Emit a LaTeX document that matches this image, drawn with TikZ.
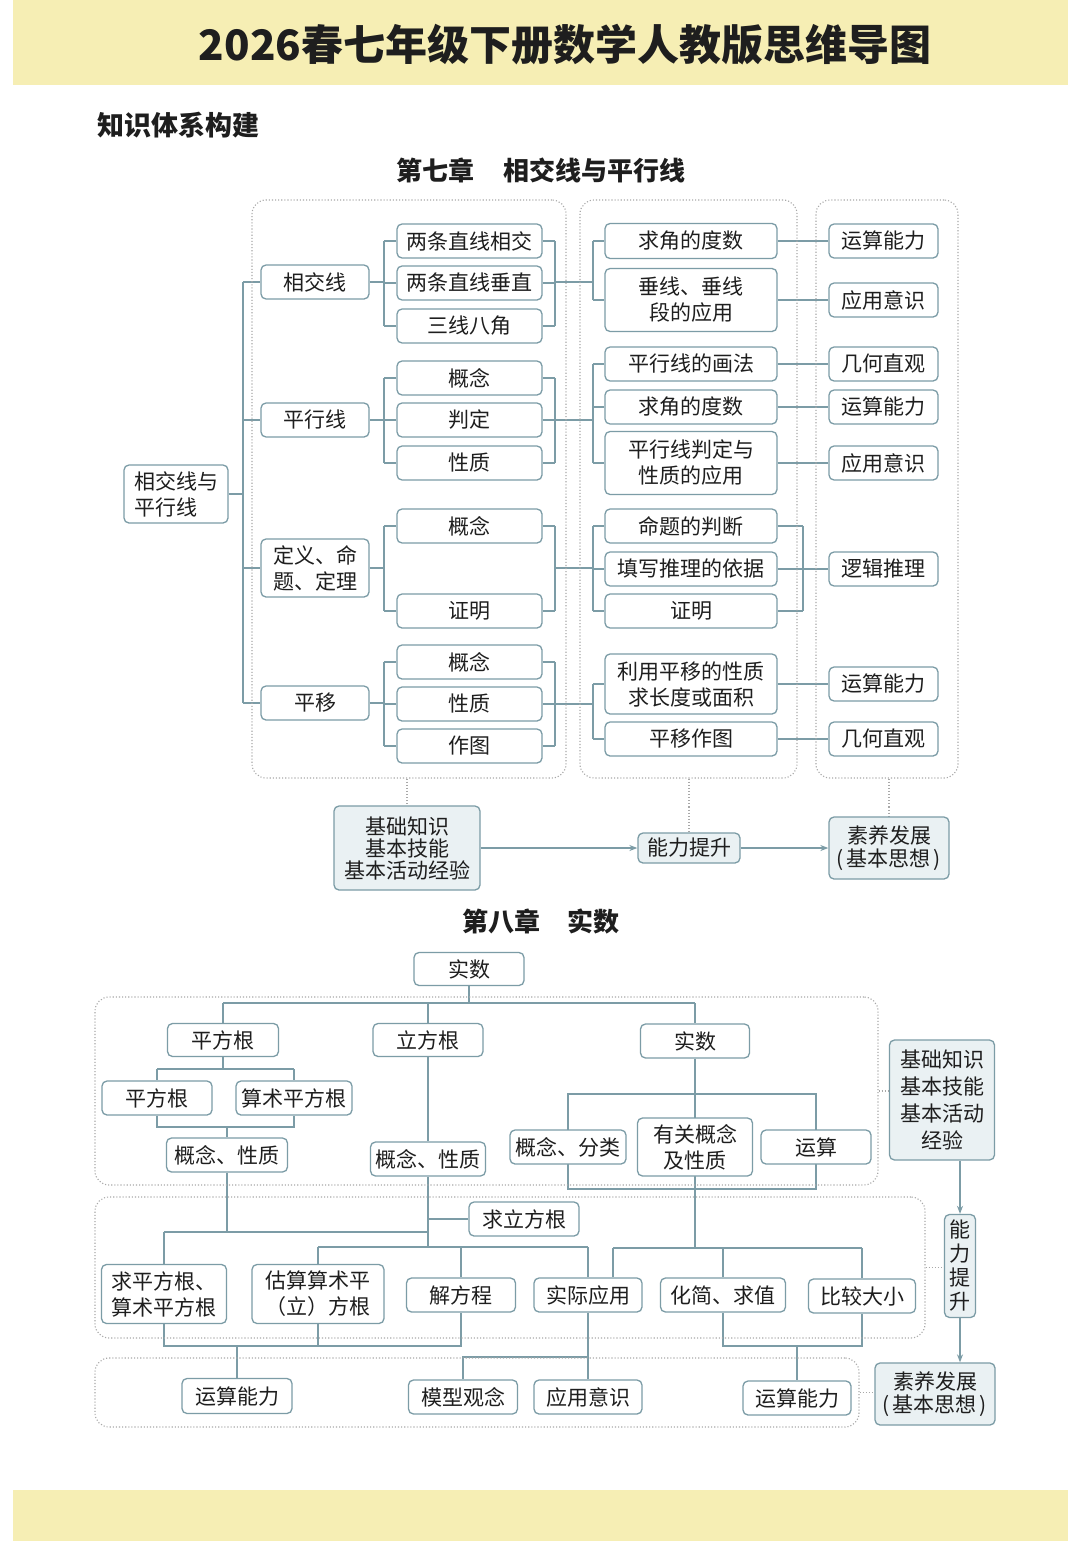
\documentclass[tikz,border=0pt]{standalone}
\usepackage{fontspec}
\setmainfont{Noto Sans CJK SC}
\usetikzlibrary{arrows.meta,backgrounds}
\definecolor{ln}{HTML}{7C9CA6}
\definecolor{dotc}{HTML}{A8A8A8}
\definecolor{band}{HTML}{F6EEB4}
\definecolor{lfill}{HTML}{EAF1F3}
\definecolor{txt}{HTML}{1E1E1E}
\begin{document}
\begin{tikzpicture}[x=1pt,y=-1pt,
  nb/.style={draw=ln,line width=1.3pt,rounded corners=5pt,fill=white,inner sep=0pt,text=txt,font=\fontsize{21}{26}\selectfont,align=center},
  nbl/.style={nb,fill=lfill},
  ctr/.style={draw=dotc,line width=1.1pt,dotted,rounded corners=14pt,inner sep=0pt},
  cn/.style={draw=ln,line width=1.3pt},
  dcn/.style={draw=dotc,line width=1.1pt,dotted},
  arr/.style={draw=ln,line width=1.3pt,-{Stealth[length=8pt,width=6pt]}},
  ttl/.style={inner sep=0pt,text=txt}
]
\useasboundingbox (0,0) rectangle (1080,1541);
\begin{scope}[on background layer]
  \fill[white] (0,0) rectangle (1080,1541);
  \fill[band] (13,0) rectangle (1068,85);
  \fill[band] (13,1490) rectangle (1068,1541);
\end{scope}

% ---------- titles ----------
\node[ttl] (title) at (565,45) {\fontsize{42}{42}\selectfont\bfseries 2026春七年级下册数学人教版思维导图};
\node[ttl,anchor=west] (kz) at (97,125) {\fontsize{27}{27}\selectfont\bfseries 知识体系构建};
\node[ttl] (ch7) at (541,170) {\fontsize{26}{26}\selectfont\bfseries 第七章\hspace{30pt}相交线与平行线};
\node[ttl] (ch8) at (541,921) {\fontsize{26}{26}\selectfont\bfseries 第八章\hspace{28pt}实数};

% ---------- chapter 7 containers ----------
\node[ctr,minimum width=314pt,minimum height=578pt] (boxA) at (409,489) {};
\node[ctr,minimum width=217pt,minimum height=578pt] (boxB) at (688.5,489) {};
\node[ctr,minimum width=142pt,minimum height=578pt] (boxC) at (887,489) {};

% root
\node[nb,align=left,minimum width=104pt,minimum height=58pt] (root) at (176,494) {相交线与\\平行线};
% level 1
\node[nb,minimum width=108pt,minimum height=34pt] (xjx) at (315,282) {相交线};
\node[nb,minimum width=108pt,minimum height=34pt] (pxx) at (315,420) {平行线};
\node[nb,minimum width=108pt,minimum height=58pt] (dy) at (315,568) {定义、命\\题、定理};
\node[nb,minimum width=108pt,minimum height=34pt] (py) at (315,703) {平移};
% level 2
\foreach \n/\y/\t in {a1/241/两条直线相交,a2/283/两条直线垂直,a3/326/三线八角,b1/378/概念,b2/420/判定,b3/463/性质,c1/526/概念,c2/611/证明,d1/662/概念,d2/704/性质,d3/746/作图}
  \node[nb,minimum width=145pt,minimum height=34pt] (\n) at (469.5,\y) {\t};
% level 3
\node[nb,minimum width=172pt,minimum height=35pt] (e1) at (691,241) {求角的度数};
\node[nb,minimum width=172pt,minimum height=63pt] (e2) at (691,300) {垂线、垂线\\段的应用};
\node[nb,minimum width=172pt,minimum height=34pt] (f1) at (691,364) {平行线的画法};
\node[nb,minimum width=172pt,minimum height=34pt] (f2) at (691,407) {求角的度数};
\node[nb,minimum width=172pt,minimum height=63pt] (f3) at (691,463) {平行线判定与\\性质的应用};
\node[nb,minimum width=172pt,minimum height=34pt] (g1) at (691,526) {命题的判断};
\node[nb,minimum width=172pt,minimum height=34pt] (g2) at (691,569) {填写推理的依据};
\node[nb,minimum width=172pt,minimum height=34pt] (g3) at (691,611) {证明};
\node[nb,minimum width=172pt,minimum height=60pt] (h1) at (691,684) {利用平移的性质\\求长度或面积};
\node[nb,minimum width=172pt,minimum height=34pt] (h2) at (691,739) {平移作图};
% level 4
\foreach \n/\y/\t in {k1/241/运算能力,k2/300/应用意识,k3/364/几何直观,k4/407/运算能力,k5/463/应用意识,k6/569/逻辑推理,k7/684/运算能力,k8/739/几何直观}
  \node[nb,minimum width=109pt,minimum height=34pt] (\n) at (883.5,\y) {\t};
% bottom row
\node[nbl,font=\fontsize{21}{22}\selectfont,minimum width=146pt,minimum height=84pt] (jc) at (407,848) {基础知识\\基本技能\\基本活动经验};
\node[nbl,minimum width=102pt,minimum height=30pt] (nl) at (689,848) {能力提升};
\node[nbl,font=\fontsize{21}{23}\selectfont,minimum width=120pt,minimum height=62pt] (sy) at (889,848) {素养发展\\(\hspace{3pt}基本思想\hspace{3pt})};

% ---------- chapter 8 ----------
\node[ctr,minimum width=783pt,minimum height=188pt] (boxD) at (486.5,1091) {};
\node[ctr,minimum width=830pt,minimum height=141pt] (boxE) at (510,1267.5) {};
\node[ctr,minimum width=764pt,minimum height=69pt] (boxF) at (477,1392.5) {};

\node[nb,minimum width=110pt,minimum height=33pt] (s0) at (469,969) {实数};
\node[nb,minimum width=111pt,minimum height=33pt] (s1) at (223,1040) {平方根};
\node[nb,minimum width=110pt,minimum height=33pt] (s2) at (428,1040) {立方根};
\node[nb,minimum width=109pt,minimum height=34pt] (s3) at (695,1041) {实数};
\node[nb,minimum width=110pt,minimum height=34pt] (s11) at (157,1098) {平方根};
\node[nb,minimum width=116pt,minimum height=34pt] (s12) at (294,1098) {算术平方根};
\node[nb,minimum width=121pt,minimum height=34pt] (s13) at (227,1155) {概念、性质};
\node[nb,minimum width=115pt,minimum height=34pt] (s21) at (428,1159) {概念、性质};
\node[nb,minimum width=116pt,minimum height=34pt] (s31) at (568,1147) {概念、分类};
\node[nb,minimum width=115pt,minimum height=58pt] (s32) at (695,1147) {有关概念\\及性质};
\node[nb,minimum width=110pt,minimum height=34pt] (s33) at (816,1147) {运算};
\node[nbl,font=\fontsize{21}{27}\selectfont,minimum width=105pt,minimum height=120pt] (jc8) at (942,1100) {基础知识\\基本技能\\基本活动\\经验};

\node[nb,minimum width=110pt,minimum height=34pt] (s4) at (524,1219) {求立方根};
\node[nb,align=left,minimum width=125pt,minimum height=59pt] (t1) at (164,1294) {求平方根、\\算术平方根};
\node[nb,align=left,minimum width=132pt,minimum height=59pt] (t2) at (318,1294) {估算算术平\\（立）方根};
\node[nb,minimum width=109pt,minimum height=34pt] (t3) at (461,1295) {解方程};
\node[nb,minimum width=108pt,minimum height=34pt] (t4) at (588,1295) {实际应用};
\node[nb,minimum width=125pt,minimum height=34pt] (t5) at (723,1295) {化简、求值};
\node[nb,minimum width=107pt,minimum height=34pt] (t6) at (862,1296) {比较大小};
\node[nbl,font=\fontsize{21}{24}\selectfont,minimum width=31pt,minimum height=103pt] (nl8) at (960,1266) {能\\力\\提\\升};
\node[nbl,font=\fontsize{21}{23}\selectfont,minimum width=120pt,minimum height=62pt] (sy8) at (935,1394) {素养发展\\(\hspace{3pt}基本思想\hspace{3pt})};

\node[nb,minimum width=110pt,minimum height=35pt] (u1) at (237,1396) {运算能力};
\node[nb,minimum width=109pt,minimum height=34pt] (u2) at (463,1397) {模型观念};
\node[nb,minimum width=108pt,minimum height=34pt] (u3) at (588,1397) {应用意识};
\node[nb,minimum width=108pt,minimum height=34pt] (u4) at (797,1398) {运算能力};

% ---------- helper coordinates ----------
\coordinate (T) at (243,0);
\coordinate (LB) at (384,0);
\coordinate (RB) at (555,0);
\coordinate (L3) at (593,0);
\coordinate (R3) at (803,0);
\coordinate (Y1) at (0,1003);
\coordinate (Y2) at (0,1069);
\coordinate (Y3) at (0,1127);
\coordinate (Y4) at (0,1094);
\coordinate (Y5) at (0,1189);
\coordinate (Y6) at (0,1232);
\coordinate (Y7) at (0,1248);
\coordinate (Y8) at (0,1247);
\coordinate (Y9) at (0,1346);
\coordinate (Y10) at (0,1357);
\coordinate (X9) at (613,0);

% ---------- connectors ----------
\begin{scope}[on background layer]
% chapter 7 trunk
\draw[cn] (root.east) -- (root.east -| T);
\draw[cn] (T |- xjx.west) -- (T |- py.west);
\foreach \n in {xjx,pxx,dy,py} \draw[cn] (T |- \n.west) -- (\n.west);
% group 1
\draw[cn] (xjx.east) -- (xjx.east -| LB);
\draw[cn] (LB |- a1.west) -- (LB |- a3.west);
\draw[cn] (RB |- a1.east) -- (RB |- a3.east);
\foreach \n in {a1,a2,a3} {\draw[cn] (LB |- \n.west) -- (\n.west); \draw[cn] (\n.east) -- (RB |- \n.east);}
\draw[cn] (RB |- xjx.east) -- (L3 |- xjx.east);
\draw[cn] (L3 |- e1.west) -- (L3 |- e2.west);
\foreach \n in {e1,e2} \draw[cn] (L3 |- \n.west) -- (\n.west);
% group 2
\draw[cn] (pxx.east) -- (pxx.east -| LB);
\draw[cn] (LB |- b1.west) -- (LB |- b3.west);
\draw[cn] (RB |- b1.east) -- (RB |- b3.east);
\foreach \n in {b1,b2,b3} {\draw[cn] (LB |- \n.west) -- (\n.west); \draw[cn] (\n.east) -- (RB |- \n.east);}
\draw[cn] (RB |- pxx.east) -- (L3 |- pxx.east);
\draw[cn] (L3 |- f1.west) -- (L3 |- f3.west);
\foreach \n in {f1,f2,f3} \draw[cn] (L3 |- \n.west) -- (\n.west);
% group 3
\draw[cn] (dy.east) -- (dy.east -| LB);
\draw[cn] (LB |- c1.west) -- (LB |- c2.west);
\draw[cn] (RB |- c1.east) -- (RB |- c2.east);
\foreach \n in {c1,c2} {\draw[cn] (LB |- \n.west) -- (\n.west); \draw[cn] (\n.east) -- (RB |- \n.east);}
\draw[cn] (RB |- dy.east) -- (L3 |- dy.east);
\draw[cn] (L3 |- g1.west) -- (L3 |- g3.west);
\foreach \n in {g1,g2,g3} {\draw[cn] (L3 |- \n.west) -- (\n.west); \draw[cn] (\n.east) -- (R3 |- \n.east);}
\draw[cn] (R3 |- g1.east) -- (R3 |- g3.east);
% group 4
\draw[cn] (py.east) -- (py.east -| LB);
\draw[cn] (LB |- d1.west) -- (LB |- d3.west);
\draw[cn] (RB |- d1.east) -- (RB |- d3.east);
\foreach \n in {d1,d2,d3} {\draw[cn] (LB |- \n.west) -- (\n.west); \draw[cn] (\n.east) -- (RB |- \n.east);}
\draw[cn] (RB |- d2.east) -- (L3 |- d2.east);
\draw[cn] (L3 |- h1.west) -- (L3 |- h2.west);
\foreach \n in {h1,h2} \draw[cn] (L3 |- \n.west) -- (\n.west);
% level 3 -> level 4
\draw[cn] (e1.east) -- (k1.west);
\draw[cn] (e2.east) -- (k2.west);
\draw[cn] (f1.east) -- (k3.west);
\draw[cn] (f2.east) -- (k4.west);
\draw[cn] (f3.east) -- (k5.west);
\draw[cn] (g2.east) -- (k6.west);
\draw[cn] (h1.east) -- (k7.west);
\draw[cn] (h2.east) -- (k8.west);
% bottom chapter 7
\draw[dcn] (jc.north |- boxA.south) -- (jc.north);
\draw[dcn] (nl.north |- boxB.south) -- (nl.north);
\draw[dcn] (sy.north |- boxC.south) -- (sy.north);

% chapter 8
\draw[cn] (s0.south) -- (s0.south |- Y1);
\draw[cn] (s1.north |- Y1) -- (s3.north |- Y1);
\foreach \n in {s1,s2,s3} \draw[cn] (\n.north |- Y1) -- (\n.north);
\draw[cn] (s1.south) -- (s1.south |- Y2);
\draw[cn] (s11.north |- Y2) -- (s12.north |- Y2);
\draw[cn] (s11.north |- Y2) -- (s11.north);
\draw[cn] (s12.north |- Y2) -- (s12.north);
\draw[cn] (s11.south) -- (s11.south |- Y3) -- (s12.south |- Y3) -- (s12.south);
\draw[cn] (s13.north |- Y3) -- (s13.north);
\draw[cn] (s2.south) -- (s21.north);
\draw[cn] (s31.center |- Y4) rectangle (s33.center |- Y5);
\draw[cn] (s3.south) -- (s3.south |- Y7);
\draw[cn] (s13.south) -- (s13.south |- Y6);
\draw[cn] (t1.north |- Y6) -- (s21.south |- Y6);
\draw[cn] (t1.north |- Y6) -- (t1.north);
\draw[cn] (s21.south) -- (s21.south |- Y8);
\draw[cn] (s21.south |- s4.west) -- (s4.west);
\draw[cn] (t2.north |- Y8) -- (t4.north |- Y8);
\foreach \n in {t2,t3,t4} \draw[cn] (\n.north |- Y8) -- (\n.north);
\draw[cn] (X9 |- Y7) -- (t6.north |- Y7);
\draw[cn] (X9 |- Y7) -- (X9 |- t4.north);
\draw[cn] (t5.north |- Y7) -- (t5.north);
\draw[cn] (t6.north |- Y7) -- (t6.north);
\draw[cn] (t1.south) -- (t1.south |- Y9) -- (t3.south |- Y9) -- (t3.south);
\draw[cn] (t2.south) -- (t2.south |- Y9);
\draw[cn] (u1.north |- Y9) -- (u1.north);
\draw[cn] (t4.south) -- (u3.north);
\draw[cn] (t4.south |- Y10) -- (u2.north |- Y10) -- (u2.north);
\draw[cn] (t5.south) -- (t5.south |- Y9) -- (t6.south |- Y9) -- (t6.south);
\draw[cn] (u4.north |- Y9) -- (u4.north);
\draw[dcn] (boxD.east) -- (boxD.east -| jc8.west);
\draw[dcn] (boxE.east) -- (boxE.east -| nl8.west);
\draw[dcn] (boxF.east) -- (boxF.east -| sy8.west);
\end{scope}

% arrows (on top)
\draw[arr] (jc.east) -- (nl.west);
\draw[arr] (nl.east) -- (sy.west);
\draw[arr] (nl8.north |- jc8.south) -- (nl8.north);
\draw[arr] (nl8.south) -- (nl8.south |- sy8.north);
\end{tikzpicture}
\end{document}
